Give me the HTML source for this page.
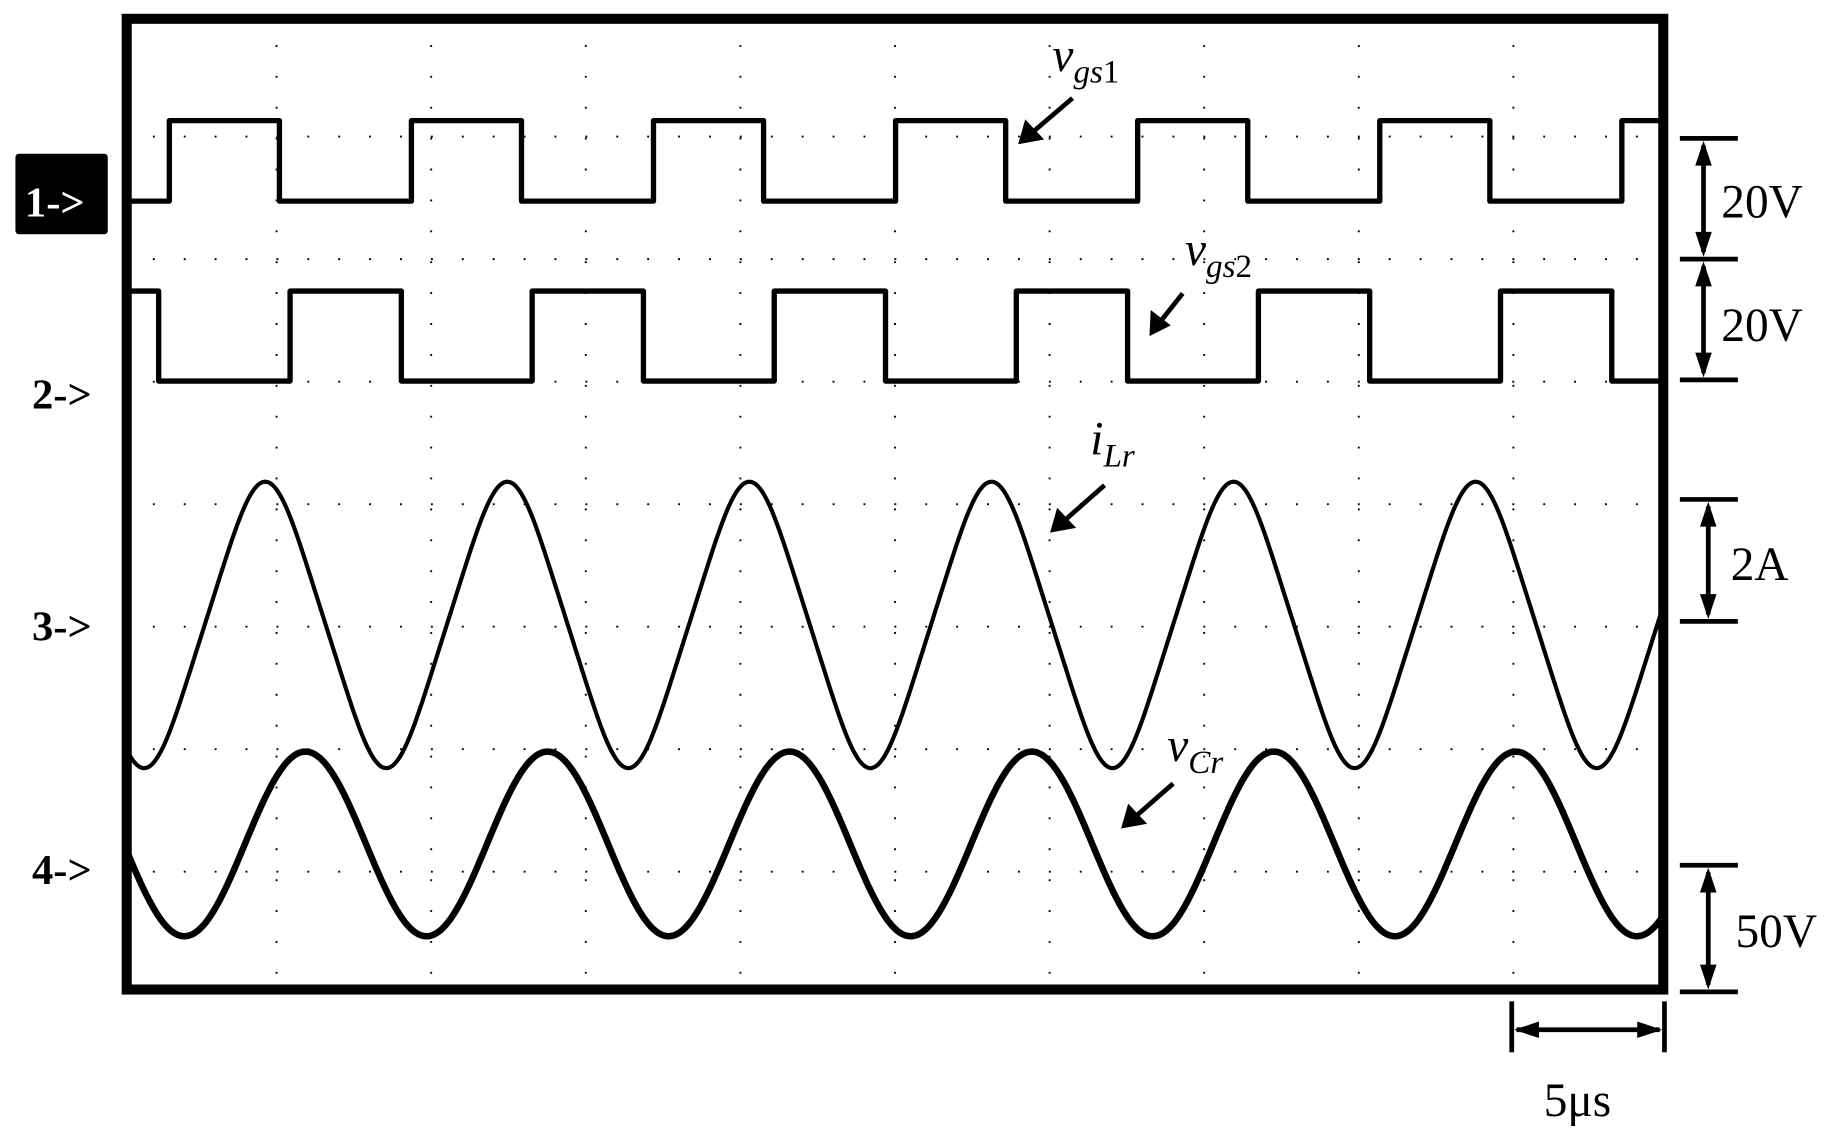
<!DOCTYPE html>
<html><head><meta charset="utf-8">
<style>
html,body{margin:0;padding:0;background:#fff;}
svg{display:block}
text,tspan{font-family:"Liberation Serif","Times New Roman",serif;}
</style></head>
<body>
<svg id="s" width="1848" height="1143" viewBox="0 0 1848 1143" xmlns="http://www.w3.org/2000/svg">
<g id="g" transform="translate(-4.7,-2.5) scale(1.1838)">
  <g id="grid" stroke="#000" stroke-width="1.6" fill="none" stroke-dasharray="1.6 24.5"></g>
  <g id="waves" fill="none" stroke="#000" stroke-linejoin="round"></g>
  <rect x="111" y="18" width="1298" height="820" fill="none" stroke="#000" stroke-width="8.5"/>
  <rect x="17" y="132" width="78" height="68" rx="3" fill="#000"/>
  <text x="25" y="185" font-size="36" font-weight="bold" fill="#fff">1-&gt;</text>
  <text x="31" y="347" font-size="36" font-weight="bold">2-&gt;</text>
  <text x="31" y="543" font-size="36" font-weight="bold">3-&gt;</text>
  <text x="31" y="749" font-size="36" font-weight="bold">4-&gt;</text>
  <g stroke="#000" stroke-width="4" fill="#000">
    <line x1="910" y1="85" x2="876" y2="114"/>
    <polygon points="864,124 870,103 886,120" stroke="none"/>
    <line x1="1003" y1="250" x2="984" y2="274"/>
    <polygon points="975,286 976,264 993,277" stroke="none"/>
    <line x1="937" y1="412" x2="903" y2="442"/>
    <polygon points="891,452 897,431 913,448" stroke="none"/>
    <line x1="995" y1="664" x2="963" y2="692"/>
    <polygon points="951,702 957,681 973,698" stroke="none"/>
  </g>
  <g font-style="italic" font-size="40">
    <text x="893" y="62">v<tspan font-size="28" dy="10">gs</tspan><tspan font-size="28" font-style="normal">1</tspan></text>
    <text x="1005" y="226">v<tspan font-size="28" dy="10">gs</tspan><tspan font-size="28" font-style="normal">2</tspan></text>
    <text x="925" y="386">i<tspan font-size="28" dy="10">Lr</tspan></text>
    <text x="990" y="645">v<tspan font-size="28" dy="10">Cr</tspan></text>
  </g>
  <g stroke="#000" stroke-width="4" fill="#000">
    <line x1="1423" y1="119" x2="1472" y2="119"/><line x1="1423" y1="221" x2="1472" y2="221"/><line x1="1423" y1="323" x2="1472" y2="323"/>
    <line x1="1443" y1="125" x2="1443" y2="215"/><line x1="1443" y1="227" x2="1443" y2="317"/>
    <polygon points="1443,121 1436,142 1450,142" stroke="none"/><polygon points="1443,219 1436,198 1450,198" stroke="none"/>
    <polygon points="1443,223 1436,244 1450,244" stroke="none"/><polygon points="1443,321 1436,300 1450,300" stroke="none"/>
    <line x1="1423" y1="424" x2="1472" y2="424"/><line x1="1423" y1="527" x2="1472" y2="527"/>
    <line x1="1447" y1="430" x2="1447" y2="521"/>
    <polygon points="1447,426 1440,447 1454,447" stroke="none"/><polygon points="1447,525 1440,504 1454,504" stroke="none"/>
    <line x1="1423" y1="733" x2="1472" y2="733"/><line x1="1423" y1="840" x2="1472" y2="840"/>
    <line x1="1447" y1="739" x2="1447" y2="834"/>
    <polygon points="1447,735 1440,756 1454,756" stroke="none"/><polygon points="1447,838 1440,817 1454,817" stroke="none"/>
    <line x1="1281" y1="848" x2="1281" y2="891"/><line x1="1410" y1="848" x2="1410" y2="891"/>
    <line x1="1285" y1="872" x2="1406" y2="872"/>
    <polygon points="1283,872 1304,865 1304,879" stroke="none"/><polygon points="1408,872 1387,865 1387,879" stroke="none"/>
  </g>
  <g font-size="40">
    <text x="1458" y="186">20V</text>
    <text x="1458" y="290">20V</text>
    <text x="1466" y="492">2A</text>
    <text x="1470" y="802">50V</text>
    <text x="1308" y="945">5μs</text>
  </g>
</g>
</svg>
<script>
(function(){
var NS="http://www.w3.org/2000/svg";
var grid=document.getElementById("grid"), waves=document.getElementById("waves");
function ln(p,x1,y1,x2,y2){var l=document.createElementNS(NS,"line");l.setAttribute("x1",x1);l.setAttribute("y1",y1);l.setAttribute("x2",x2);l.setAttribute("y2",y2);p.appendChild(l);}
var L=107,R=1413,T=14,B=842,dx=(R-L)/10,dy=(B-T)/8;
for(var i=1;i<10;i++){ln(grid,L+dx*i,T,L+dx*i,B);}
for(var j=1;j<8;j++){ln(grid,L,T+dy*j,R,T+dy*j);}
function path(d,w){var p=document.createElementNS(NS,"path");p.setAttribute("d",d);p.setAttribute("stroke-width",w);waves.appendChild(p);}
var P=204.5;
var d="M112,172";
for(var k=0;k<7;k++){var r=147+P*k,f=r+93;d+=" L"+r+",172 L"+r+",104";if(f<1409){d+=" L"+f+",104 L"+f+",172";}else{d+=" L1409,104";}}
path(d,4.5);
d="M112,248 L138,248 L138,324";
for(var k=0;k<6;k++){var r=249+P*k,f=r+94;d+=" L"+r+",324 L"+r+",248";d+=" L"+Math.min(f,1409)+",248";if(f<1409)d+=" L"+f+",324";}
d+=" L1409,324";
path(d,4.5);
d="";
for(var x=112;x<=1409;x+=2){var ph=2*Math.PI*(x-228)/P;var c=Math.cos(ph);var v=c*0.85+0.15*Math.sign(c)*Math.pow(Math.abs(c),3);var y=530-121*Math.max(-1,Math.min(1,v));if(y>651)y=651;d+=(x==112?"M":" L")+x+","+y.toFixed(1);}
path(d,3.5);
d="";
for(var x=112;x<=1409;x+=2){var y=715-78*Math.cos(2*Math.PI*(x-262)/P);d+=(x==112?"M":" L")+x+","+y.toFixed(1);}
path(d,5.5);
})();
</script>
</body></html>
